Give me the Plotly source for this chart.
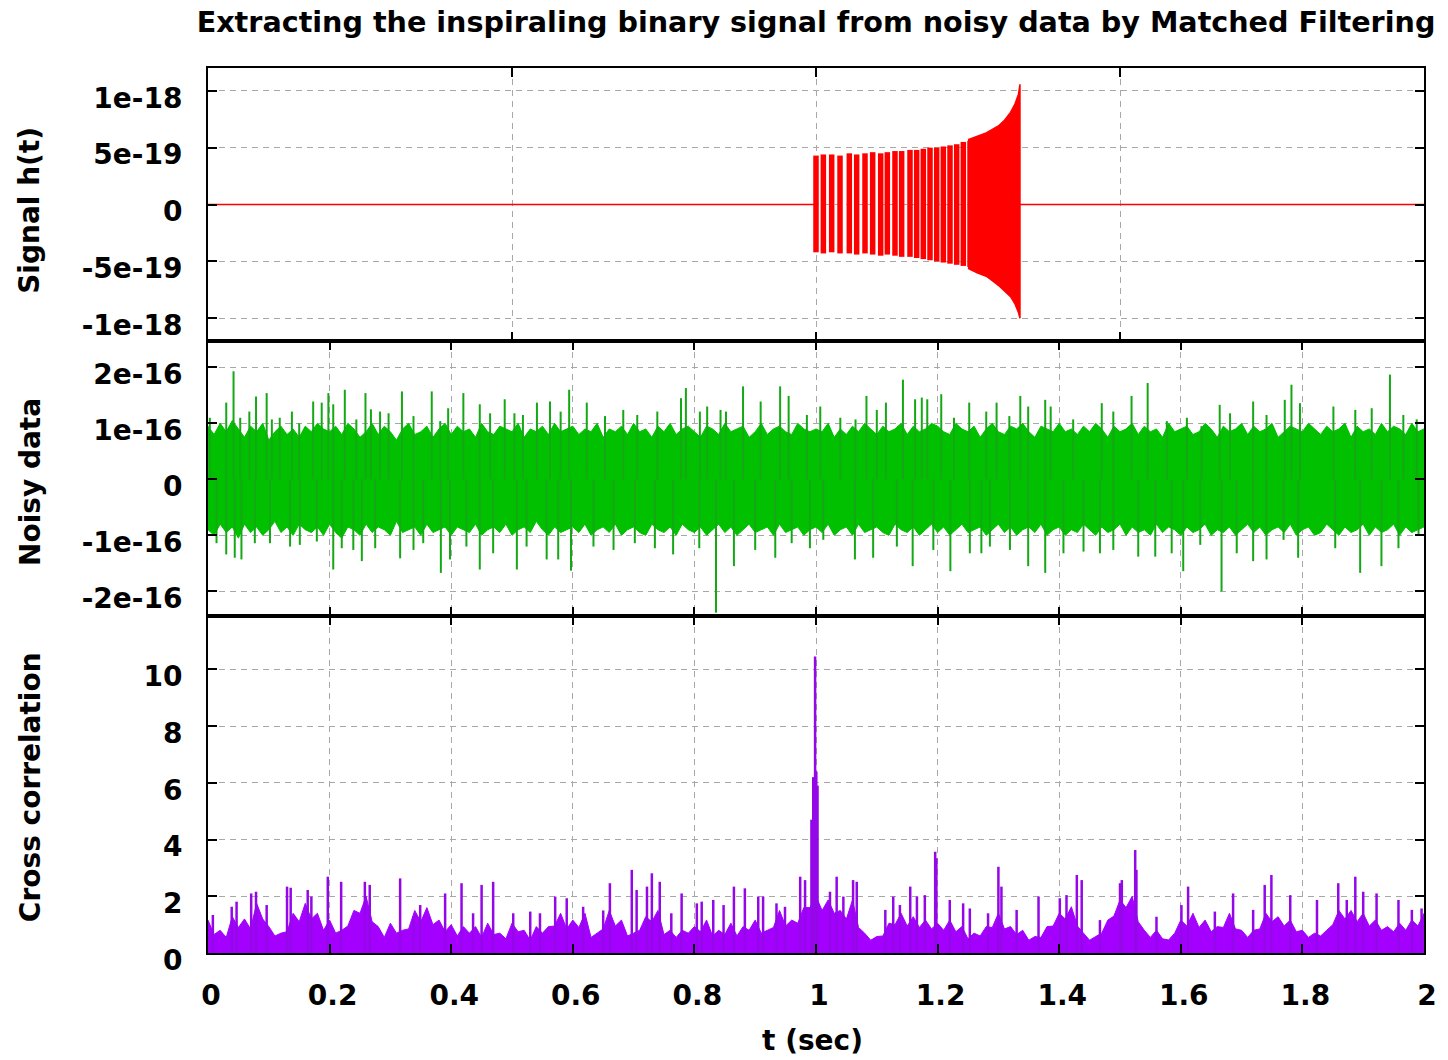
import plotly.graph_objects as go

# ---------------- data (time in seconds) ----------------
# Signal h(t): flat before and after the chirp
sig_flat_t = [0.0, 1.0, None, 1.3355, 2.0]
sig_flat_h = [0.0, 0.0, None, 0.0, 0.0]

# Resolved cycles of the chirp (units of 1e-18)
chirp_bar_t = [1.0000, 1.0121, 1.0258, 1.0395, 1.0548, 1.0669, 1.0806, 1.0932, 1.1064, 1.1173, 1.1299,
               1.1409, 1.1546, 1.1656, 1.1765, 1.1875, 1.1985, 1.2094, 1.2204, 1.2314, 1.2423, 1.2533]
chirp_bar_hi = [0.43, 0.44, 0.44, 0.43, 0.45, 0.44, 0.45, 0.46, 0.45, 0.46, 0.47,
                0.47, 0.48, 0.48, 0.49, 0.50, 0.50, 0.51, 0.52, 0.53, 0.55, 0.56]
chirp_bar_lo = [-0.42, -0.43, -0.42, -0.43, -0.43, -0.44, -0.43, -0.44, -0.45, -0.44, -0.45,
                -0.46, -0.46, -0.47, -0.48, -0.49, -0.50, -0.51, -0.52, -0.53, -0.54, -0.55]

# Unresolved final part of the chirp: envelope (units of 1e-18)
chirp_env_t = [1.250, 1.265, 1.280, 1.290, 1.300, 1.310, 1.320, 1.327, 1.333, 1.3355]
chirp_env_hi = [0.57, 0.60, 0.63, 0.66, 0.69, 0.74, 0.81, 0.88, 0.97, 1.057]
chirp_env_lo = [-0.56, -0.60, -0.63, -0.67, -0.71, -0.76, -0.81, -0.87, -0.95, -1.00]

# Noisy data: edge of the dense core band, every 0.01 s (units of 1e-16)
noise_env_t = [round(i * 0.01, 2) for i in range(201)]
noise_env_hi = [
    0.95, 0.80, 1.00, 0.85, 1.05, 0.90, 0.75, 0.95, 0.85, 1.00, 0.70, 0.85, 0.95, 0.80, 0.90, 0.75, 0.95, 0.85, 1.00, 0.90,
    0.85, 0.95, 0.80, 1.00, 0.90, 0.75, 0.85, 1.00, 0.80, 0.95, 0.85, 0.70, 0.90, 1.00, 0.80, 0.85, 0.95, 0.75, 0.90, 1.00,
    0.80, 0.95, 0.85, 0.90, 0.75, 1.00, 0.85, 0.80, 0.95, 0.90, 0.85, 1.00, 0.75, 0.90, 0.85, 0.95, 0.80, 1.00, 0.85, 0.90,
    0.95, 0.80, 0.90, 0.85, 1.00, 0.75, 0.90, 0.85, 0.95, 0.80, 1.00, 0.85, 0.90, 0.75, 0.95, 0.85, 1.00, 0.80, 0.90, 0.95,
    0.85, 0.75, 0.95, 0.90, 0.80, 1.00, 0.85, 0.90, 0.95, 0.75, 0.85, 1.00, 0.80, 0.90, 0.95, 0.85, 0.80, 1.00, 0.90, 0.85,
    0.90, 0.85, 1.00, 0.75, 0.90, 0.80, 0.95, 0.85, 1.00, 0.90, 0.80, 0.95, 0.85, 0.90, 1.00, 0.80, 0.95, 0.85, 0.90, 1.00,
    0.95, 0.85, 0.80, 1.00, 0.90, 0.85, 0.95, 0.75, 0.90, 1.00, 0.85, 0.80, 0.95, 0.90, 1.00, 0.85, 0.75, 0.95, 0.90, 0.85,
    1.00, 0.85, 0.90, 0.80, 0.95, 0.85, 1.00, 0.90, 0.75, 0.95, 0.85, 0.90, 1.00, 0.80, 0.95, 0.85, 0.90, 0.75, 1.00, 0.85,
    0.90, 0.95, 0.80, 0.85, 1.00, 0.90, 0.75, 0.95, 0.85, 0.90, 1.00, 0.80, 0.95, 0.85, 0.90, 1.00, 0.75, 0.85, 0.95, 0.90,
    0.85, 1.00, 0.90, 0.80, 0.95, 0.85, 0.90, 1.00, 0.75, 0.95, 0.85, 0.90, 0.80, 1.00, 0.85, 0.95, 0.90, 0.80, 1.00, 0.85,
    0.90]
noise_env_lo = [
    -0.90, -1.00, -0.80, -0.95, -0.85, -1.05, -0.80, -0.95, -0.85, -1.00, -0.90, -0.75, -0.95, -0.85, -1.00, -0.80, -0.90, -0.95, -0.85, -1.00,
    -0.80, -0.95, -1.05, -0.85, -0.90, -1.00, -0.80, -0.95, -0.85, -0.90, -1.00, -0.75, -0.95, -0.90, -0.85, -1.00, -0.80, -0.95, -0.90, -0.85,
    -1.00, -0.85, -0.90, -0.95, -0.80, -1.00, -0.90, -0.85, -0.95, -0.80, -1.00, -0.90, -0.85, -0.95, -0.75, -0.90, -1.00, -0.85, -0.95, -0.90,
    -0.85, -0.95, -0.80, -1.00, -0.90, -0.85, -0.95, -0.80, -1.00, -0.90, -0.85, -0.95, -1.00, -0.80, -0.90, -0.95, -0.85, -1.00, -0.80, -0.90,
    -0.95, -0.85, -1.00, -0.90, -0.80, -0.95, -0.85, -1.00, -0.90, -0.80, -0.95, -0.90, -0.85, -1.00, -0.80, -0.95, -0.90, -0.85, -1.00, -0.90,
    -0.85, -0.95, -0.80, -1.00, -0.90, -0.85, -1.00, -0.80, -0.95, -0.90, -0.85, -0.95, -1.00, -0.80, -0.90, -0.95, -0.85, -1.00, -0.90, -0.80,
    -0.95, -0.85, -1.00, -0.90, -0.80, -0.95, -0.90, -0.85, -1.00, -0.90, -0.80, -0.95, -0.85, -1.00, -0.90, -0.85, -0.95, -0.80, -1.00, -0.90,
    -0.85, -1.00, -0.90, -0.95, -0.80, -0.90, -1.00, -0.85, -0.95, -0.90, -0.80, -1.00, -0.85, -0.95, -0.90, -1.00, -0.80, -0.95, -0.85, -0.90,
    -1.00, -0.85, -0.95, -0.90, -0.80, -1.00, -0.90, -0.95, -0.85, -1.00, -0.90, -0.80, -0.95, -0.85, -1.00, -0.90, -0.85, -0.95, -0.80, -1.00,
    -0.90, -0.85, -1.00, -0.95, -0.80, -0.90, -1.00, -0.85, -0.95, -0.90, -0.80, -1.00, -0.85, -0.95, -0.90, -0.80, -1.00, -0.85, -0.95, -0.90,
    -0.85]

# Noisy data: outstanding positive excursions (units of 1e-16)
noise_up_t = [0.003, 0.030, 0.042, 0.053, 0.068, 0.079, 0.0965, 0.105, 0.118, 0.138, 0.150, 0.173, 0.187,
              0.198, 0.206, 0.225, 0.244, 0.259, 0.268, 0.283, 0.297, 0.319, 0.338, 0.368, 0.382, 0.395,
              0.420, 0.447, 0.464, 0.488, 0.504, 0.518, 0.541, 0.5625, 0.580, 0.594, 0.623, 0.653, 0.683,
              0.706, 0.739, 0.778, 0.786, 0.809, 0.821, 0.843, 0.852, 0.880, 0.909, 0.941, 0.955, 0.985,
              1.007, 1.040, 1.065, 1.083, 1.100, 1.115, 1.143, 1.163, 1.174, 1.183, 1.206, 1.227, 1.252,
              1.280, 1.297, 1.318, 1.336, 1.349, 1.377, 1.386, 1.423, 1.470, 1.489, 1.519, 1.5455, 1.577,
              1.610, 1.634, 1.664, 1.681, 1.719, 1.741, 1.771, 1.782, 1.796, 1.851, 1.887, 1.914, 1.944,
              1.966, 1.988]
noise_up_v = [1.10, 1.37, 1.93, 1.10, 1.21, 1.48, 1.54, 1.07, 1.10, 1.21, 1.00, 1.39, 1.37,
              1.54, 1.34, 1.60, 1.07, 1.54, 1.25, 1.21, 1.18, 1.57, 1.13, 1.57, 1.04, 1.27,
              1.54, 1.34, 1.18, 1.43, 1.18, 1.15, 1.37, 1.39, 1.21, 1.60, 1.37, 1.13, 1.24,
              1.15, 1.21, 1.45, 1.63, 1.21, 1.30, 1.24, 1.21, 1.66, 1.39, 1.66, 1.49, 1.15,
              1.30, 1.10, 1.07, 1.49, 1.24, 1.37, 1.78, 1.43, 1.46, 1.43, 1.52, 1.10, 1.37,
              1.21, 1.37, 1.13, 1.49, 1.30, 1.42, 1.30, 1.07, 1.36, 1.21, 1.49, 1.72, 1.04,
              1.10, 0.95, 1.33, 1.18, 1.39, 1.15, 1.42, 1.69, 1.36, 1.30, 1.24, 1.27, 1.87,
              1.15, 1.07]

# Noisy data: outstanding negative excursions (units of 1e-16)
noise_dn_t = [0.014, 0.030, 0.044, 0.055, 0.077, 0.102, 0.135, 0.151, 0.179, 0.206, 0.220, 0.239, 0.253,
              0.275, 0.316, 0.338, 0.354, 0.383, 0.398, 0.425, 0.447, 0.469, 0.508, 0.524, 0.557, 0.576,
              0.597, 0.634, 0.667, 0.702, 0.735, 0.765, 0.808, 0.8355, 0.865, 0.900, 0.933, 0.960, 0.990,
              1.012, 1.064, 1.094, 1.133, 1.159, 1.193, 1.221, 1.253, 1.272, 1.286, 1.319, 1.349, 1.377,
              1.407, 1.440, 1.467, 1.489, 1.530, 1.558, 1.585, 1.604, 1.632, 1.667, 1.692, 1.719, 1.741,
              1.769, 1.793, 1.854, 1.895, 1.930, 1.958, 1.991]
noise_dn_v = [-1.14, -1.34, -1.40, -1.43, -1.14, -1.14, -1.20, -1.17, -1.11, -1.61, -1.23, -1.26, -1.46,
              -1.23, -1.41, -1.26, -1.14, -1.67, -1.43, -1.20, -1.61, -1.32, -1.61, -1.20, -1.43, -1.43,
              -1.63, -1.20, -1.26, -1.14, -1.23, -1.34, -1.23, -2.38, -1.55, -1.26, -1.40, -1.14, -1.23,
              -1.08, -1.43, -1.40, -1.20, -1.55, -1.26, -1.64, -1.32, -1.32, -1.20, -1.26, -1.55, -1.67,
              -1.32, -1.29, -1.32, -1.26, -1.38, -1.38, -1.32, -1.64, -1.17, -2.00, -1.32, -1.46, -1.43,
              -1.08, -1.40, -1.23, -1.67, -1.55, -1.23, -1.00]

# Cross correlation: background level every 0.01 s
cross_t = [round(i * 0.01, 2) for i in range(201)]
cross_base = [
    1.16, 0.65, 0.80, 0.55, 1.28, 0.90, 1.20, 0.85, 1.75, 1.20,
    0.93, 0.60, 0.70, 0.75, 1.40, 1.10, 1.75, 1.20, 1.40, 0.80,
    1.16, 0.70, 0.80, 0.95, 1.50, 1.40, 2.00, 1.10, 0.93, 0.55,
    1.05, 0.70, 0.80, 0.85, 1.50, 1.10, 1.60, 1.00, 1.16, 0.75,
    1.00, 0.60, 0.93, 0.70, 0.93, 0.55, 1.05, 0.65, 0.70, 0.50,
    1.05, 0.75, 0.80, 0.45, 0.93, 0.70, 0.93, 0.95, 1.40, 0.85,
    1.16, 0.90, 1.40, 0.55, 0.70, 0.85, 1.50, 0.95, 1.16, 0.60,
    0.70, 0.80, 1.28, 1.10, 1.50, 0.65, 0.80, 0.55, 0.80, 0.70,
    0.93, 0.75, 1.16, 0.60, 0.80, 0.65, 1.05, 0.60, 0.93, 0.80,
    1.16, 0.70, 0.80, 0.90, 1.50, 0.95, 1.16, 1.05, 1.60, 1.60,
    2.00, 1.50, 1.87, 1.40, 1.50, 1.20, 1.87, 0.90, 0.70, 0.45,
    0.58, 0.60, 1.05, 1.00, 1.40, 0.95, 1.28, 0.90, 1.16, 0.85,
    1.05, 0.80, 1.16, 0.75, 0.93, 0.50, 0.70, 0.60, 0.93, 0.90,
    1.40, 0.85, 0.93, 0.65, 0.80, 0.45, 0.58, 0.55, 0.93, 0.95,
    1.40, 1.20, 1.63, 0.95, 0.70, 0.45, 0.58, 0.70, 1.16, 1.30,
    1.87, 1.60, 2.00, 1.10, 0.80, 0.55, 0.80, 0.50, 0.46, 0.70,
    1.16, 0.95, 1.40, 0.90, 1.16, 0.75, 0.93, 0.90, 1.40, 0.85,
    0.80, 0.55, 0.80, 0.85, 1.40, 1.10, 1.28, 0.95, 1.16, 0.75,
    0.80, 0.55, 0.70, 0.60, 0.80, 1.00, 1.50, 1.20, 1.50, 1.10,
    1.40, 0.95, 1.16, 0.80, 0.93, 0.75, 1.05, 0.80, 1.16, 0.95,
    1.40]

# Cross correlation: individual peaks (the event sits at t = 1 s)
cross_pk_t = [0.008, 0.039, 0.047, 0.071, 0.079, 0.0965, 0.130, 0.136, 0.164, 0.170, 0.197, 0.219, 0.258,
              0.266, 0.316, 0.338, 0.349, 0.390, 0.417, 0.436, 0.450, 0.469, 0.502, 0.530, 0.546, 0.571,
              0.590, 0.617, 0.650, 0.661, 0.697, 0.705, 0.722, 0.730, 0.743, 0.762, 0.779, 0.804, 0.812,
              0.831, 0.848, 0.865, 0.883, 0.905, 0.913, 0.935, 0.949, 0.974, 0.982, 0.9925, 0.9955, 0.9985,
              1.0005, 1.0025, 1.023, 1.034, 1.045, 1.061, 1.067, 1.114, 1.127, 1.138, 1.155, 1.166, 1.179,
              1.196, 1.198, 1.220, 1.242, 1.253, 1.283, 1.300, 1.305, 1.330, 1.366, 1.401, 1.412, 1.429,
              1.437, 1.467, 1.500, 1.503, 1.525, 1.527, 1.560, 1.601, 1.612, 1.656, 1.686, 1.719, 1.738,
              1.749, 1.780, 1.824, 1.859, 1.873, 1.887, 1.900, 1.922, 1.958, 1.980, 1.996]
cross_pk_v = [1.34, 1.63, 1.81, 2.10, 2.16, 1.69, 2.34, 2.30, 2.22, 1.99, 2.69, 2.51, 2.51,
              2.40, 2.63, 1.30, 1.69, 2.10, 2.46, 1.40, 2.40, 2.51, 1.40, 1.46, 1.40, 1.99,
              1.93, 1.63, 1.50, 2.46, 2.93, 2.22, 2.34, 2.81, 2.51, 1.40, 2.10, 1.75, 1.81,
              1.87, 1.69, 2.34, 2.28, 1.99, 1.99, 1.75, 1.63, 2.69, 2.57, 4.70, 6.20, 10.45,
              6.40, 5.90, 2.16, 2.69, 1.99, 2.57, 2.51, 1.52, 1.99, 1.69, 2.34, 1.99, 2.04,
              3.57, 3.34, 1.87, 1.75, 1.57, 1.40, 3.04, 2.34, 1.52, 1.99, 1.93, 2.04, 2.75,
              2.57, 1.16, 2.46, 2.57, 3.63, 2.93, 1.28, 1.69, 2.34, 1.46, 2.10, 1.52, 2.40,
              2.75, 2.04, 1.87, 2.46, 1.87, 2.69, 2.16, 2.10, 1.87, 1.52, 1.57]

# Axis tick labels
sig_tickvals = [-1e-18, -5e-19, 0.0, 5e-19, 1e-18]
sig_ticktext = ["-1e-18", "-5e-19", "0", "5e-19", "1e-18"]
noise_tickvals = [-2e-16, -1e-16, 0.0, 1e-16, 2e-16]
noise_ticktext = ["-2e-16", "-1e-16", "0", "1e-16", "2e-16"]

SIG_UNIT = 1e-18
NOISE_UNIT = 1e-16

RED = "#ff0000"
GREEN = "#00c000"
GREEN_DARK = "#14a814"
PURPLE = "#a400ff"
PURPLE_DARK = "#9408e8"


def stems(ts, lo, hi):
    xs, ys = [], []
    for t, a, b in zip(ts, lo, hi):
        xs += [t, t, None]
        ys += [a, b, None]
    return xs, ys


fig = go.Figure()

# ---- panel 1: signal ----
fig.add_trace(go.Scatter(x=sig_flat_t, y=[v if v is None else v * SIG_UNIT for v in sig_flat_h],
                         mode="lines", line=dict(color=RED, width=1.6),
                         xaxis="x", yaxis="y", showlegend=False))
bx, by = stems(chirp_bar_t, [v * SIG_UNIT for v in chirp_bar_lo], [v * SIG_UNIT for v in chirp_bar_hi])
fig.add_trace(go.Scatter(x=bx, y=by, mode="lines", line=dict(color=RED, width=5.5),
                         xaxis="x", yaxis="y", showlegend=False))
fig.add_trace(go.Scatter(x=chirp_env_t + chirp_env_t[::-1],
                         y=[v * SIG_UNIT for v in chirp_env_hi] + [v * SIG_UNIT for v in chirp_env_lo[::-1]],
                         mode="lines", fill="toself", fillcolor=RED, line=dict(color=RED, width=1.5),
                         xaxis="x", yaxis="y", showlegend=False))

# ---- panel 2: noisy data ----
fig.add_trace(go.Scatter(x=noise_env_t + noise_env_t[::-1],
                         y=[v * NOISE_UNIT for v in noise_env_hi] + [v * NOISE_UNIT for v in noise_env_lo[::-1]],
                         mode="lines", fill="toself", fillcolor=GREEN, line=dict(color=GREEN, width=1),
                         xaxis="x2", yaxis="y2", showlegend=False))
ux, uy = stems(noise_up_t, [0.0] * len(noise_up_t), [v * NOISE_UNIT for v in noise_up_v])
dx, dy = stems(noise_dn_t, [0.0] * len(noise_dn_t), [v * NOISE_UNIT for v in noise_dn_v])
fig.add_trace(go.Scatter(x=ux + dx, y=uy + dy, mode="lines", line=dict(color=GREEN_DARK, width=2),
                         xaxis="x2", yaxis="y2", showlegend=False))

# ---- panel 3: cross correlation ----
fig.add_trace(go.Scatter(x=cross_t, y=cross_base, mode="lines", fill="tozeroy", fillcolor=PURPLE,
                         line=dict(color=PURPLE, width=1), xaxis="x3", yaxis="y3", showlegend=False))
px, py = stems(cross_pk_t, [0.0] * len(cross_pk_t), cross_pk_v)
fig.add_trace(go.Scatter(x=px, y=py, mode="lines", line=dict(color=PURPLE_DARK, width=2.5),
                         xaxis="x3", yaxis="y3", showlegend=False))

# ---- axes ----
TICKFONT = dict(family="DejaVu Sans", size=28, color="black", weight="bold")
GRID = dict(showgrid=True, gridcolor="#a8a8a8", gridwidth=1, griddash="6px,5px")
BOX = dict(showline=True, linecolor="black", linewidth=2, mirror="ticks",
           ticks="inside", ticklen=9, tickwidth=2, tickcolor="black", zeroline=False)

D1 = [0.6915, 1.0]
D2 = [0.3808, 0.6915]
D3 = [0.0, 0.3808]

fig.update_layout(
    xaxis=dict(range=[0, 2], dtick=0.5, tick0=0, showticklabels=False, anchor="y", **GRID, **BOX),
    yaxis=dict(domain=D1, range=[-1.2e-18, 1.2e-18], tickvals=sig_tickvals, ticktext=sig_ticktext,
               tickfont=TICKFONT, ticklabelstandoff=18, ticklabelshift=7, anchor="x", **GRID, **BOX),
    xaxis2=dict(range=[0, 2], dtick=0.2, tick0=0, showticklabels=False, anchor="y2", **GRID, **BOX),
    yaxis2=dict(domain=D2, range=[-2.44e-16, 2.47e-16], tickvals=noise_tickvals, ticktext=noise_ticktext,
                tickfont=TICKFONT, ticklabelstandoff=18, ticklabelshift=7, anchor="x2", **GRID, **BOX),
    xaxis3=dict(range=[0, 2], dtick=0.2, tick0=0, tickfont=TICKFONT, ticklabelstandoff=16,
                ticklabelshift=3, anchor="y3", **GRID, **BOX),
    yaxis3=dict(domain=D3, range=[0, 11.88], dtick=2, tick0=0, tickfont=TICKFONT,
                ticklabelstandoff=18, ticklabelshift=7, anchor="x3", **GRID, **BOX),
)

TITLEFONT = dict(family="DejaVu Sans", size=28, color="black", weight="bold")
ylabels = [("Signal h(t)", 0.6915 + (1 - 0.6915) / 2 - 0.006),
           ("Noisy data", 0.3808 + (0.6915 - 0.3808) / 2 - 0.004),
           ("Cross correlation", 0.3808 / 2 - 0.003)]
annotations = [dict(text=txt, xref="paper", yref="paper", x=-0.1464, y=yc, textangle=-90,
                    xanchor="center", yanchor="middle", showarrow=False, font=TITLEFONT)
               for txt, yc in ylabels]
annotations.append(dict(text="t (sec)", xref="paper", yref="paper", x=0.4975, y=-0.0994,
                        xanchor="center", yanchor="middle", showarrow=False, font=TITLEFONT))

fig.update_layout(
    width=1448, height=1060, autosize=False,
    margin=dict(l=208, r=24, t=68, b=107),
    paper_bgcolor="white", plot_bgcolor="white",
    title=dict(text="Extracting the inspiraling binary signal from noisy data by Matched Filtering",
               x=0.5, xref="paper", xanchor="center", y=1 - 22 / 1060, yref="container", yanchor="middle",
               font=dict(family="DejaVu Sans", size=28.6, color="black", weight="bold")),
    annotations=annotations,
    showlegend=False,
)

fig.write_html("out.html")
